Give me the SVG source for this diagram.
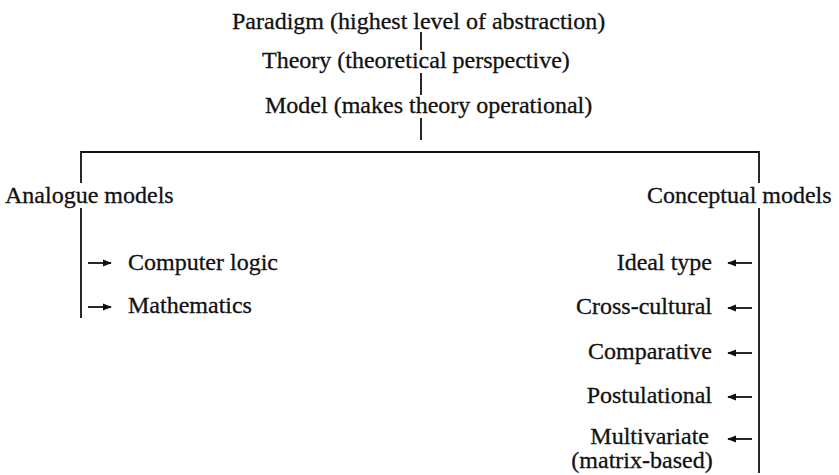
<svg xmlns="http://www.w3.org/2000/svg" width="839" height="475" viewBox="0 0 839 475">
<style>
text{font-family:"Liberation Serif","Times New Roman",serif;font-size:24px;fill:#111;stroke:#111;stroke-width:0.3}
.ln{stroke:#111;stroke-width:1.8;fill:none}
.ar{stroke:#111;stroke-width:1.8;fill:none;marker-end:url(#ah)}
.r{text-anchor:end}
.m{text-anchor:middle}
</style>
<defs>
<marker id="ah" viewBox="0 0 10 10" refX="9" refY="5" markerWidth="5" markerHeight="5" orient="auto" markerUnits="strokeWidth">
<path d="M0,1 L10,5 L0,9 Z" fill="#111"/>
</marker>
</defs>
<rect width="839" height="475" fill="#fff"/>
<g id="paradigm"><text x="232" y="29">Paradigm (highest level of abstraction)</text></g>
<g id="theory"><text x="262" y="68">Theory (theoretical perspective)</text></g>
<g id="model"><text x="265" y="113">Model (makes theory operational)</text></g>
<g id="analogue"><text x="5" y="203">Analogue models</text></g>
<g id="conceptual"><text x="647" y="203">Conceptual models</text></g>
<g id="computer-logic"><text x="128" y="270">Computer logic</text></g>
<g id="mathematics"><text x="128" y="313">Mathematics</text></g>
<g id="ideal-type"><text class="r" x="712" y="270">Ideal type</text></g>
<g id="cross-cultural"><text class="r" x="712" y="314">Cross-cultural</text></g>
<g id="comparative"><text class="r" x="712" y="359">Comparative</text></g>
<g id="postulational"><text class="r" x="712" y="403">Postulational</text></g>
<g id="multivariate"><text class="r" x="709" y="444">Multivariate</text><text class="m" x="642" y="468">(matrix-based)</text></g>
<g id="connectors">
<path class="ln" d="M421,32 V50 M421,73 V95 M421,118 V140"/>
<path class="ln" d="M81,183 V152 H759 V183"/>
<path class="ln" d="M81,208 V318"/>
<path class="ln" d="M759,208 V473"/>
<path class="ar" d="M88,263 H111"/>
<path class="ar" d="M88,307 H111"/>
<path class="ar" d="M752,263 H728"/>
<path class="ar" d="M752,308 H728"/>
<path class="ar" d="M752,353 H728"/>
<path class="ar" d="M752,397 H728"/>
<path class="ar" d="M752,439 H728"/>
</g>
</svg>
